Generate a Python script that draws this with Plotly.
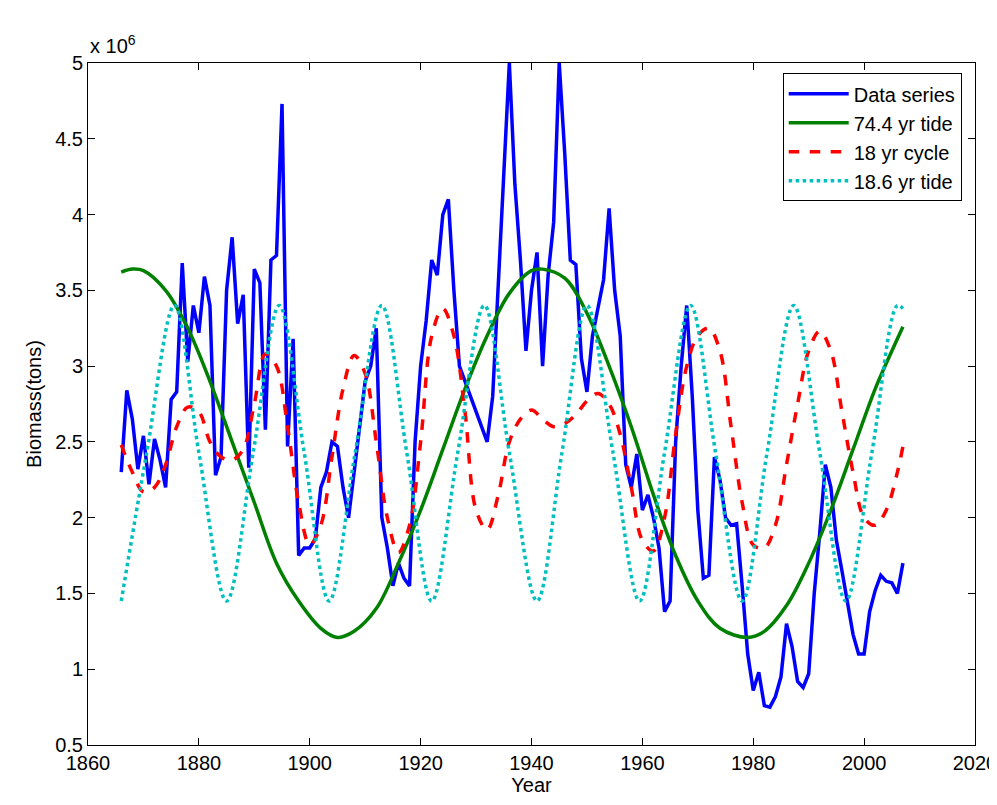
import plotly.graph_objects as go

years = list(range(1866, 2008))
biomass = [2.3, 2.84, 2.65, 2.32, 2.54, 2.22, 2.52, 2.38, 2.2, 2.78, 2.83, 3.68, 3.03, 3.4, 3.22,
           3.59, 3.4, 2.28, 2.4, 3.5, 3.85, 3.28, 3.47, 2.33, 3.64, 3.55, 2.58, 3.7, 3.73, 4.73,
           2.47, 3.18, 1.75, 1.8, 1.8, 1.86, 2.2, 2.3, 2.5, 2.47, 2.2, 2.0, 2.3, 2.6, 2.9,
           3.0, 3.25, 2.0, 1.8, 1.55, 1.7, 1.6, 1.55, 2.5, 3.0, 3.3, 3.7, 3.6, 4.0, 4.1,
           3.5, 3.0, 2.9, 2.8, 2.7, 2.6, 2.5, 2.8, 3.5, 4.2, 5.0, 4.2, 3.7, 3.1, 3.5,
           3.75, 3.0, 3.6, 3.95, 5.0, 4.4, 3.7, 3.67, 3.05, 2.83, 3.2, 3.4, 3.57, 4.04, 3.5,
           3.2, 2.35, 2.2, 2.42, 2.05, 2.15, 2.0, 1.8, 1.38, 1.45, 2.5, 3.0, 3.4, 2.8, 2.05,
           1.6, 1.62, 2.4, 2.25, 2.0, 1.95, 1.96, 1.55, 1.1, 0.86, 0.98, 0.76, 0.75, 0.82, 0.95,
           1.3, 1.15, 0.92, 0.88, 0.97, 1.5, 1.9, 2.35, 2.2, 1.85, 1.65, 1.45, 1.23, 1.1, 1.1,
           1.38, 1.52, 1.62, 1.58, 1.57, 1.5, 1.7]

tide74_years = [1866, 1868, 1870, 1874, 1878, 1882, 1886, 1890, 1894, 1898, 1902, 1905, 1908,
                1912, 1916, 1920, 1924, 1928, 1932, 1936, 1940, 1942, 1946, 1950, 1954, 1958,
                1962, 1966, 1970, 1974, 1979, 1982, 1986, 1990, 1994, 1998, 2002, 2005, 2007]
tide74 = [3.62, 3.64, 3.63, 3.5, 3.25, 2.9, 2.5, 2.1, 1.7, 1.45, 1.27, 1.21, 1.25,
          1.4, 1.7, 2.05, 2.45, 2.85, 3.2, 3.48, 3.63, 3.64, 3.58, 3.35, 3.0, 2.6,
          2.15, 1.75, 1.45, 1.27, 1.21, 1.25, 1.42, 1.7, 2.05, 2.45, 2.85, 3.1, 3.26]

cycle18_years = list(range(1866, 2007, 2)) + [2007]
cycle18 = [2.48, 2.3, 2.17, 2.2, 2.35, 2.6, 2.73, 2.7, 2.5, 2.4, 2.38, 2.45, 2.75, 3.08, 3.0,
           2.6, 2.1, 1.82, 1.95, 2.4, 2.85, 3.07, 2.95, 2.5, 2.0, 1.77, 1.95, 2.5, 3.2, 3.38,
           3.2, 2.7, 2.05, 1.92, 2.15, 2.5, 2.65, 2.71, 2.65, 2.6, 2.62, 2.68, 2.77, 2.82, 2.75,
           2.55, 2.2, 1.85, 1.78, 2.0, 2.55, 3.0, 3.2, 3.25, 3.1, 2.6, 2.1, 1.82, 1.8, 1.95,
           2.35, 2.75, 3.1, 3.23, 3.1, 2.7, 2.3, 2.0, 1.95, 2.05, 2.3, 2.47]

tide18_years = [1866, 1870.6, 1875.6, 1880, 1885, 1889.8, 1894.5, 1899, 1903.5, 1908.2, 1913,
                1917.5, 1922, 1926.7, 1931.5, 1936, 1941, 1945.5, 1950, 1954.7, 1959.5, 1964,
                1968.7, 1973.2, 1978, 1982.5, 1987.3, 1992, 1996.7, 2001.4, 2006, 2007]
tide18 = [1.45, 2.43, 3.4, 2.43, 1.45, 2.43, 3.4, 2.43, 1.45, 2.43, 3.4,
          2.43, 1.45, 2.43, 3.4, 2.43, 1.45, 2.43, 3.4, 2.43, 1.45, 2.43,
          3.4, 2.43, 1.45, 2.43, 3.4, 2.43, 1.45, 2.43, 3.4, 3.38]

fig = go.Figure()
fig.add_trace(go.Scatter(x=years, y=biomass, mode="lines", name="Data series",
                         line=dict(color="#0000ff", width=3.5)))
fig.add_trace(go.Scatter(x=tide74_years, y=tide74, mode="lines", name="74.4 yr tide",
                         line=dict(color="#008000", width=3.5, shape="spline")))
fig.add_trace(go.Scatter(x=cycle18_years, y=cycle18, mode="lines", name="18 yr cycle",
                         line=dict(color="#ff0000", width=3.5, dash="dash", shape="spline")))
fig.add_trace(go.Scatter(x=tide18_years, y=tide18, mode="lines", name="18.6 yr tide",
                         line=dict(color="#00bfbf", width=3.5, dash="dot", shape="spline")))

axis = dict(showgrid=False, zeroline=False, showline=True, linecolor="black", mirror="ticks",
            ticks="inside", ticklen=7, tickcolor="black", tickfont=dict(size=20), automargin=False)
fig.update_xaxes(range=[1860, 2020], dtick=20, title=dict(text="Year", font=dict(size=20), standoff=2), **axis)
fig.update_yaxes(range=[0.5, 5], dtick=0.5, title=dict(text="Biomass(tons)", font=dict(size=20), standoff=8), **axis)
fig.add_annotation(x=0, y=1, xref="paper", yref="paper", xanchor="left", yanchor="bottom",
                   yshift=4, text="x 10<sup>6</sup>", showarrow=False, font=dict(size=20))
fig.update_layout(
    width=997, height=805, plot_bgcolor="white", paper_bgcolor="white",
    margin=dict(l=80, r=30, t=55, b=68),
    font=dict(family="Liberation Sans, Arial", color="black"),
    legend=dict(x=0.985, y=0.985, xanchor="right", yanchor="top", bordercolor="black",
                borderwidth=1, bgcolor="white", font=dict(size=20), itemwidth=60,
                tracegroupgap=2),
)
fig.write_html("out.html")
